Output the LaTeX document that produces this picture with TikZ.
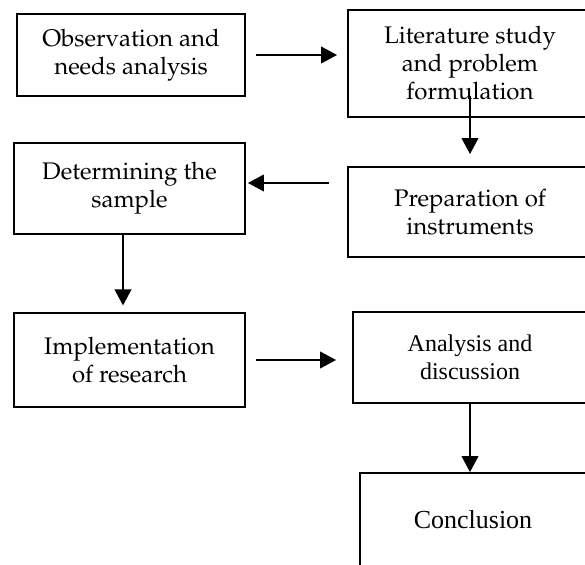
\documentclass[tikz,border=0pt]{standalone}
\usepackage{fontspec}
\usepackage[T1,TU]{fontenc}
\newfontfamily\timesrm{Liberation Serif}
\newcommand{\palrm}{\usefont{T1}{ppl}{m}{n}}
\usetikzlibrary{arrows.meta,calc}

\begin{document}
\begin{tikzpicture}[
  x=0.75pt, y=-0.75pt,
  box/.style={draw, line width=1.4pt, align=center, inner sep=0pt,
              font=\palrm\fontsize{18}{21}\selectfont},
  tbox/.style={box, font=\timesrm\fontsize{18}{21}\selectfont},
  flow/.style={-{Triangle[length=12pt,width=12.5pt]}, line width=1.4pt}
]
\useasboundingbox (0,0) rectangle (585,564);
\clip (0,0) rectangle (585,564);
% left column
\node[box, minimum width=171pt, minimum height=61.5pt] (obs) at (131,55)
  {Observation and\\needs analysis};
\node[box, minimum width=173.25pt, minimum height=68.25pt] (det) at (129.5,188.5)
  {Determining the\\sample};
\node[box, minimum width=173.25pt, minimum height=70.5pt] (impl) at (129.5,360)
  {Implementation\\of research};
% right column (cut off at the right edge)
\node[box, minimum width=183pt, minimum height=80.25pt] (lit) at (470,63.5)
  {Literature study\\and problem\\formulation};
\node[box, minimum width=183pt, minimum height=67.5pt] (prep) at (470,212)
  {Preparation of\\instruments};
\node[tbox, minimum width=175.5pt, minimum height=68.25pt] (ana) at (470,357.5)
  {Analysis and\\discussion};
\node[tbox, font=\timesrm\fontsize{19.5}{21}\selectfont,
      minimum width=169.5pt, minimum height=70.5pt] (concl) at (473,520)
  {Conclusion};
% connector ends
\coordinate (detin) at ($(det.east)+(0,-5.5)$);
\coordinate (detout) at ($(det.south)+(-6.5,0)$);
\coordinate (litout) at ($(lit.south)+(0,-22)$);
% flow
\draw[flow, shorten <=7.5pt, shorten >=7.5pt] (obs.east) -- (obs.east -| lit.west);
\draw[flow, shorten >=9pt] (litout) -- (prep.north);
\draw[flow, shorten <=13.5pt, shorten >=1.5pt] (detin -| prep.west) -- (detin);
\draw[flow, shorten >=5pt] (detout) -- (detout |- impl.north);
\draw[flow, shorten <=7.5pt, shorten >=12pt] (impl.east) -- (impl.east -| ana.west);
\draw[flow] (ana.south) -- (ana.south |- concl.north);
\end{tikzpicture}
\end{document}
